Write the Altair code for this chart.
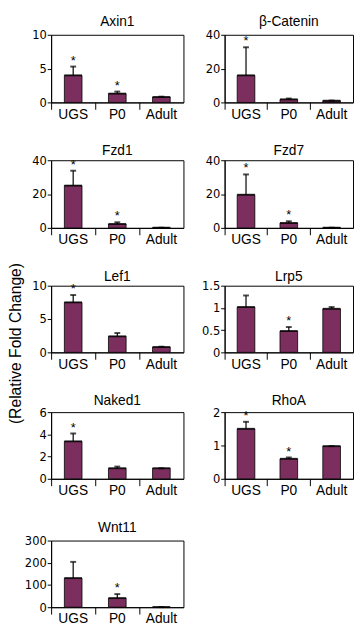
import altair as alt
import pandas as pd

stages = ["UGS", "P0", "Adult"]
y_title = "(Relative Fold Change)"

axin1_name = "Axin1"
axin1_mean = [4.0, 1.3, 0.8]
axin1_err = [5.3, 1.6, 0.85]
axin1_sig = [1, 1, 0]
axin1_ticks = [0, 5, 10]

bcat_name = "β-Catenin"
bcat_mean = [16.0, 1.8, 1.0]
bcat_err = [32.6, 2.3, 1.1]
bcat_sig = [1, 0, 0]
bcat_ticks = [0, 20, 40]

fzd1_name = "Fzd1"
fzd1_mean = [25.0, 2.3, 0.1]
fzd1_err = [33.8, 3.3, 0.1]
fzd1_sig = [1, 1, 0]
fzd1_ticks = [0, 20, 40]

fzd7_name = "Fzd7"
fzd7_mean = [19.6, 2.9, 0.1]
fzd7_err = [31.6, 3.9, 0.1]
fzd7_sig = [1, 1, 0]
fzd7_ticks = [0, 20, 40]

lef1_name = "Lef1"
lef1_mean = [7.5, 2.4, 0.8]
lef1_err = [8.6, 2.9, 0.85]
lef1_sig = [1, 0, 0]
lef1_ticks = [0, 5, 10]

lrp5_name = "Lrp5"
lrp5_mean = [1.02, 0.48, 0.98]
lrp5_err = [1.28, 0.57, 1.02]
lrp5_sig = [0, 1, 0]
lrp5_ticks = [0, 0.5, 1, 1.5]

naked1_name = "Naked1"
naked1_mean = [3.37, 0.95, 0.95]
naked1_err = [4.08, 1.1, 0.95]
naked1_sig = [1, 0, 0]
naked1_ticks = [0, 2, 4, 6]

rhoa_name = "RhoA"
rhoa_mean = [1.5, 0.6, 0.98]
rhoa_err = [1.71, 0.64, 0.98]
rhoa_sig = [1, 1, 0]
rhoa_ticks = [0, 1, 2]

wnt11_name = "Wnt11"
wnt11_mean = [131, 41, 0.5]
wnt11_err = [204, 59, 0.5]
wnt11_sig = [0, 1, 0]
wnt11_ticks = [0, 100, 200, 300]

BAR = "#7c2f5f"
NARROW = "Liberation Sans Narrow, Arial Narrow, DejaVu Sans Condensed, sans-serif"
SANS = "Liberation Sans, Arial, sans-serif"


def panel(name, mean, err, sig, ticks, width, height, toff):
    df = pd.DataFrame({
        "stage": stages,
        "mean": mean,
        "err": err,
        "star": ["*" if s else "" for s in sig],
    })
    x = alt.X(
        "stage:N", sort=stages, title=None,
        scale=alt.Scale(paddingInner=0, paddingOuter=0),
        axis=alt.Axis(labelAngle=0, bandPosition=0, tickSize=7, labelPadding=-2,
                      labelFont=SANS, labelFontSize=14, labelColor="black",
                      domainColor="black", tickColor="black"),
    )
    yscale = alt.Scale(domain=[0, ticks[-1]], nice=False, zero=True)
    yaxis = alt.Axis(values=ticks, format="~r", grid=False, tickSize=4, labelPadding=1,
                     labelFont=NARROW, labelFontSize=13, labelColor="black",
                     domainColor="black", tickColor="black")

    def Y(field):
        return alt.Y(field, scale=yscale, axis=yaxis, title=None)

    base = alt.Chart(df).encode(x=x)
    bars = base.mark_bar(size=18, fill=BAR, stroke="black", strokeWidth=0.8).encode(y=Y("mean:Q"))
    rule = base.mark_rule(color="black", strokeWidth=1.2).encode(y=Y("mean:Q"), y2="err:Q")
    cap = base.mark_tick(size=6, thickness=2, color="black").encode(y=Y("err:Q"))
    top = base.mark_tick(size=18, thickness=2, color="black").encode(y=Y("mean:Q"))
    star = base.mark_text(fontSize=13, font=SANS, dy=-2, baseline="alphabetic",
                          color="black").encode(y=Y("err:Q"), text="star:N")
    return alt.layer(bars, rule, cap, top, star).properties(
        width=width, height=height,
        title=alt.TitleParams(name, fontSize=14, font=SANS, fontWeight="normal",
                              offset=toff, anchor="middle", color="black"),
    )


LW, RW = 135, 131
panels = [
    panel(axin1_name, axin1_mean, axin1_err, axin1_sig, axin1_ticks, LW, 69, 0),
    panel(bcat_name, bcat_mean, bcat_err, bcat_sig, bcat_ticks, RW, 69, 0),
    panel(fzd1_name, fzd1_mean, fzd1_err, fzd1_sig, fzd1_ticks, LW, 69, -4),
    panel(fzd7_name, fzd7_mean, fzd7_err, fzd7_sig, fzd7_ticks, RW, 69, -4),
    panel(lef1_name, lef1_mean, lef1_err, lef1_sig, lef1_ticks, LW, 68, -4),
    panel(lrp5_name, lrp5_mean, lrp5_err, lrp5_sig, lrp5_ticks, RW, 68, -4),
    panel(naked1_name, naked1_mean, naked1_err, naked1_sig, naked1_ticks, LW, 68, -2),
    panel(rhoa_name, rhoa_mean, rhoa_err, rhoa_sig, rhoa_ticks, RW, 68, -2),
    panel(wnt11_name, wnt11_mean, wnt11_err, wnt11_sig, wnt11_ticks, LW, 68, 0),
]

grid = alt.concat(*panels, columns=2, spacing={"row": 22, "column": 16})

ylab = alt.Chart(pd.DataFrame({"t": [y_title]})).mark_text(
    angle=270, fontSize=16, font=SANS, color="black", baseline="middle", align="center"
).encode(
    text="t:N", x=alt.value(7), y=alt.value(315)
).properties(width=12, height=600, view=alt.ViewBackground(strokeOpacity=0))

chart = alt.hconcat(ylab, grid, spacing=0).properties(
    padding=0
).configure_view(stroke="black", strokeWidth=1)

chart.save("out.html", embed_options={"renderer": "svg", "actions": False})
